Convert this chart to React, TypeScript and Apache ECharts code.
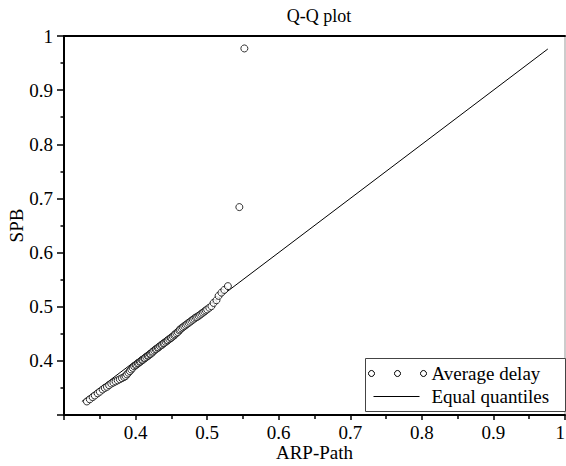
import React, { useEffect, useRef } from "react";
import * as echarts from "echarts";

// Quantiles of ARP-Path (x) and SPB (y)
const arpPathLow = [
  0.332, 0.336, 0.340, 0.343, 0.347, 0.350, 0.354, 0.357, 0.360, 0.363, 0.366, 0.369,
  0.372, 0.375, 0.378, 0.381, 0.384, 0.386, 0.388, 0.390, 0.392, 0.394, 0.396, 0.398,
];
const spbLow = [
  0.325, 0.329, 0.333, 0.336, 0.340, 0.343, 0.347, 0.350, 0.352, 0.355, 0.358, 0.360,
  0.362, 0.364, 0.366, 0.368, 0.370, 0.372, 0.375, 0.378, 0.381, 0.384, 0.387, 0.390,
];
const arpPathMid = [
  0.400, 0.401, 0.403, 0.404, 0.406, 0.407, 0.409, 0.410, 0.412, 0.413,
  0.415, 0.417, 0.418, 0.420, 0.421, 0.423, 0.424, 0.426, 0.428, 0.429,
  0.431, 0.432, 0.434, 0.436, 0.437, 0.439, 0.440, 0.442, 0.444, 0.445,
  0.447, 0.449, 0.450, 0.452, 0.454, 0.455, 0.457, 0.459, 0.461, 0.462,
  0.464, 0.466, 0.468, 0.470, 0.472, 0.474, 0.476, 0.478, 0.480, 0.482,
  0.484, 0.486, 0.488, 0.490, 0.492, 0.494, 0.496, 0.498, 0.500,
];
const spbMid = [
  0.392, 0.393, 0.395, 0.396, 0.398, 0.399, 0.401, 0.402, 0.404, 0.405,
  0.407, 0.409, 0.410, 0.412, 0.413, 0.415, 0.417, 0.419, 0.421, 0.422,
  0.424, 0.425, 0.427, 0.429, 0.430, 0.432, 0.433, 0.435, 0.437, 0.438,
  0.440, 0.442, 0.443, 0.445, 0.447, 0.449, 0.451, 0.453, 0.456, 0.458,
  0.460, 0.462, 0.464, 0.466, 0.468, 0.470, 0.472, 0.474, 0.476, 0.478,
  0.480, 0.481, 0.483, 0.485, 0.487, 0.489, 0.491, 0.493, 0.495,
];
const arpPathHigh = [0.503, 0.506, 0.509, 0.513, 0.516, 0.520, 0.524, 0.529, 0.545, 0.552];
const spbHigh = [0.498, 0.501, 0.507, 0.512, 0.520, 0.526, 0.531, 0.538, 0.684, 0.977];

// Equal-quantiles reference line endpoints
const equalLineX = [0.325, 0.976];
const equalLineY = [0.325, 0.976];

const seriesNames = ["Average delay", "Equal quantiles"];
const titleText = "Q-Q plot";
const xName = "ARP-Path";
const yName = "SPB";

const FONT = "'Liberation Serif', 'Times New Roman', serif";

export default function App() {
  const ref = useRef<HTMLDivElement>(null);

  useEffect(() => {
    if (!ref.current) return;
    const chart = echarts.init(ref.current, undefined, { renderer: "svg" });

    const xs = [...arpPathLow, ...arpPathMid, ...arpPathHigh];
    const ys = [...spbLow, ...spbMid, ...spbHigh];
    const points = xs.map((x, i) => [x, ys[i]]);
    const line = equalLineX.map((x, i) => [x, equalLineY[i]]);

    const fmt = (v: number) => (v < 0.35 ? "" : String(Number(v.toFixed(1))));

    const axisCommon = {
      type: "value" as const,
      min: 0.3,
      max: 1.0,
      interval: 0.1,
      splitLine: { show: false },
      axisLine: { show: true, onZero: false, lineStyle: { color: "#000", width: 2 } },
      nameLocation: "middle" as const,
      nameMoveOverlap: false,
      nameTextStyle: { fontFamily: FONT, fontSize: 19, color: "#000" },
    };

    const legendX = 365;
    const legendY = 358;

    chart.setOption({
      animation: false,
      backgroundColor: "#fff",
      title: {
        text: titleText,
        left: 314,
        textAlign: "center",
        top: 2,
        textStyle: { fontFamily: FONT, fontSize: 18, fontWeight: "normal", color: "#000" },
      },
      grid: {
        left: 64,
        right: 1,
        top: 36,
        bottom: 51,
        show: true,
        borderColor: "#999",
        borderWidth: 1,
        outerBoundsMode: "none",
        containLabel: false,
      },
      xAxis: [
        {
          ...axisCommon,
          name: xName,
          nameGap: 28,
          axisTick: { show: true, inside: false, length: 5, lineStyle: { color: "#000", width: 1.5 } },
          minorTick: { show: true, splitNumber: 2, length: 4, lineStyle: { color: "#000", width: 1.5 } },
          axisLabel: {
            formatter: fmt,
            fontFamily: FONT,
            fontSize: 19,
            color: "#000",
            margin: 8,
            showMaxLabel: true,
            alignMaxLabel: "right",
          },
        },
        {
          type: "value",
          position: "top",
          min: 0.3,
          max: 1.0,
          splitLine: { show: false },
          axisTick: { show: false },
          axisLabel: { show: false },
          axisLine: { show: true, onZero: false, lineStyle: { color: "#000", width: 2 } },
        },
      ],
      yAxis: {
        ...axisCommon,
        name: yName,
        nameGap: 38,
        axisTick: { show: true, inside: false, length: 7, lineStyle: { color: "#000", width: 1.5 } },
        minorTick: { show: true, splitNumber: 2, length: 3.5, lineStyle: { color: "#000", width: 1.5 } },
        axisLabel: { formatter: fmt, fontFamily: FONT, fontSize: 19, color: "#000", margin: 11, showMaxLabel: true },
      },
      series: [
        {
          name: seriesNames[1],
          type: "line",
          data: line,
          symbol: "none",
          lineStyle: { color: "#000", width: 1 },
          z: 2,
        },
        {
          name: seriesNames[0],
          type: "scatter",
          data: points,
          symbol: "circle",
          symbolSize: 7,
          itemStyle: { color: "#fff", borderColor: "#000", borderWidth: 1 },
          z: 3,
        },
      ],
      graphic: [
        {
          type: "group",
          left: legendX,
          top: legendY,
          z: 100,
          children: [
            {
              type: "rect",
              shape: { x: 0, y: 0, width: 200, height: 53 },
              style: { fill: "#fff", stroke: "#444", lineWidth: 1 },
            },
            { type: "circle", shape: { cx: 6, cy: 15, r: 3 }, style: { fill: "#fff", stroke: "#000", lineWidth: 1 } },
            { type: "circle", shape: { cx: 32, cy: 15, r: 3 }, style: { fill: "#fff", stroke: "#000", lineWidth: 1 } },
            { type: "circle", shape: { cx: 58, cy: 15, r: 3 }, style: { fill: "#fff", stroke: "#000", lineWidth: 1 } },
            {
              type: "text",
              x: 66,
              y: 15,
              style: {
                text: seriesNames[0],
                fontFamily: FONT,
                fontSize: 19,
                fill: "#000",
                verticalAlign: "middle",
                align: "left",
              },
            },
            {
              type: "line",
              shape: { x1: 8, y1: 38, x2: 54, y2: 38 },
              style: { stroke: "#000", lineWidth: 1 },
            },
            {
              type: "text",
              x: 66,
              y: 38,
              style: {
                text: seriesNames[1],
                fontFamily: FONT,
                fontSize: 19,
                fill: "#000",
                verticalAlign: "middle",
                align: "left",
              },
            },
          ],
        },
      ],
    });

    return () => chart.dispose();
  }, []);

  return (
    <div
      ref={ref}
      style={{ position: "fixed", left: 0, top: 0, width: 566, height: 466, background: "#fff" }}
    />
  );
}
